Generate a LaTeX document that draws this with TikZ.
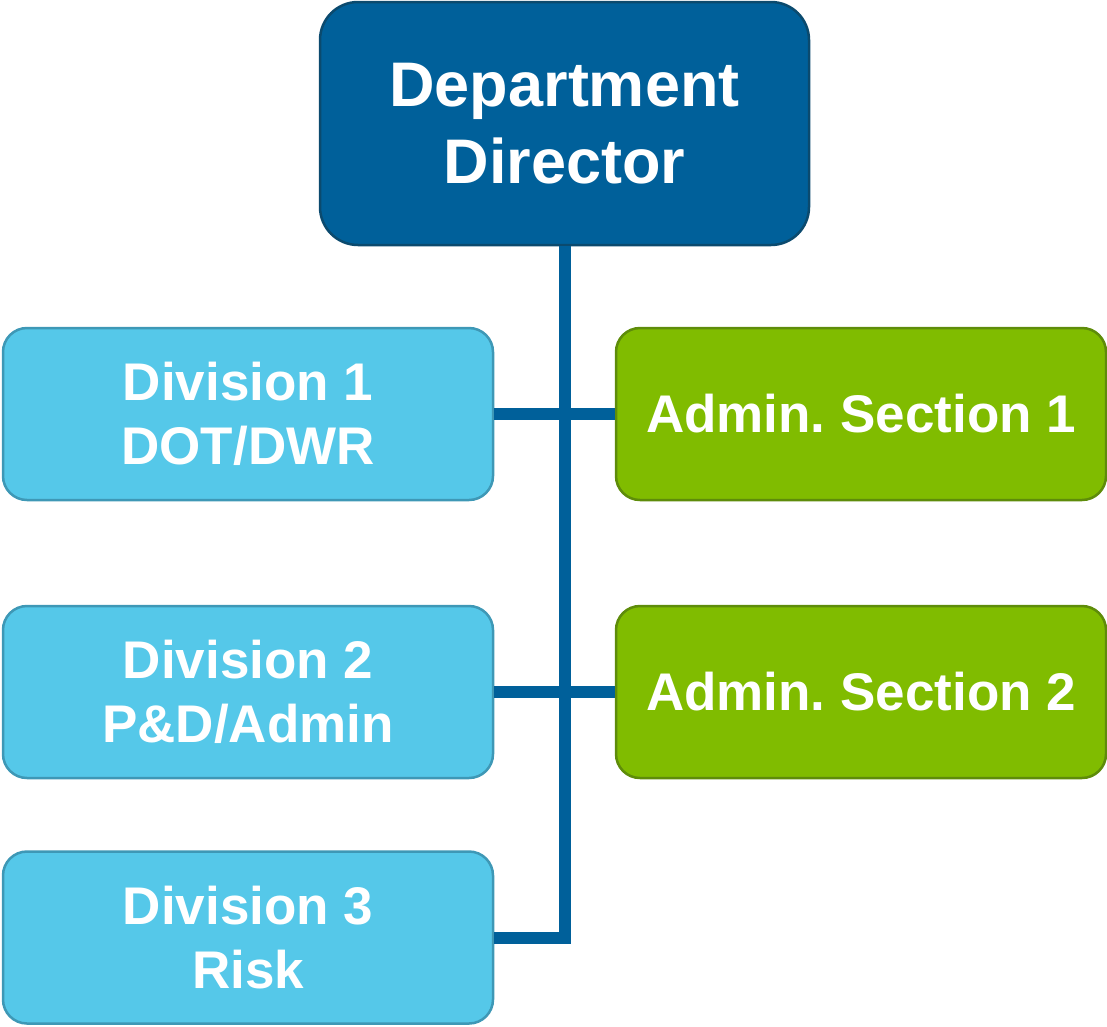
\documentclass[tikz,border=0pt]{standalone}
\usepackage{fontspec}
\setmainfont{Liberation Sans}
\usepackage{tikz}
\usetikzlibrary{positioning}
\definecolor{dirblue}{HTML}{00609A}
\definecolor{dirline}{HTML}{0B4A6E}
\definecolor{divblue}{HTML}{55C8E9}
\definecolor{divline}{HTML}{3E98B6}
\definecolor{secgreen}{HTML}{80BC00}
\definecolor{secline}{HTML}{5E8C0A}
\frenchspacing

\begin{document}
\begin{tikzpicture}[x=1pt,y=-1pt,
    director node/.style={rectangle,rounded corners=38pt,draw=dirline,fill=dirblue,line width=2.5pt,text=white,align=center,
      font=\fontsize{63}{77}\selectfont\bfseries,minimum width=489pt,minimum height=243pt,inner sep=0pt},
    division node/.style={rectangle,rounded corners=24pt,draw=divline,fill=divblue,line width=2.5pt,text=white,align=center,
      font=\fontsize{53}{64}\selectfont\bfseries,minimum width=490pt,minimum height=172pt,inner sep=0pt},
    section node/.style={division node,draw=secline,fill=secgreen},
    link/.style={-,draw=dirblue,line width=12pt}]
    \useasboundingbox (0,0) rectangle (1107,1026);
    \begin{scope}
      \node[director node] (dir) at (564.5,123.5) {Department\\Director};
      \node[division node] (div1) at (248,414) {Division 1\\DOT/DWR};
      \node[division node] (div2) at (248,692) {Division 2\\P\&D/Admin};
      \node[division node] (div3) at (248,937.5) {Division 3\\Risk};
      \node[section node] (sec1) at (861,414) {Admin. Section 1};
      \node[section node] (sec2) at (861,692) {Admin. Section 2};
      \path[link] (dir.south) |- (div3.east);
      \path[link] (div1.east) -- (sec1.west);
      \path[link] (div2.east) -- (sec2.west);
    \end{scope}
  \end{tikzpicture}
\end{document}
